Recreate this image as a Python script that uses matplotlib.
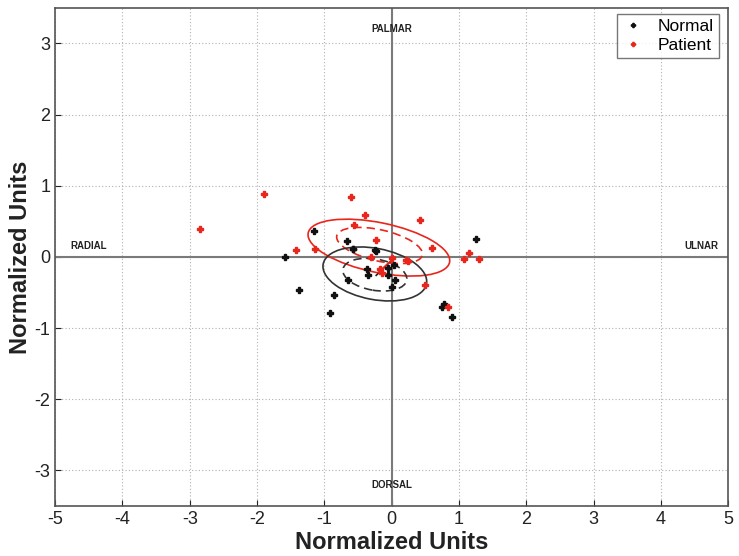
import matplotlib
matplotlib.use("Agg")
import matplotlib.pyplot as plt
from matplotlib.patches import Ellipse

plt.rcParams['font.family'] = ['Liberation Sans', 'DejaVu Sans']
plt.rcParams['axes.unicode_minus'] = False

# Data
normal_x = [-1.16, -1.58, -1.37, -0.86, -0.91, -0.66, -0.58, -0.24, -0.37, -0.35,
            -0.05, 0.04, -0.05, 0.05, 0.00, -0.65, 0.78, 0.75, 0.90, 1.26, -0.57, -0.25]
normal_y = [0.36, 0.00, -0.46, -0.53, -0.79, 0.22, 0.11, 0.08, -0.17, -0.25,
            -0.15, -0.12, -0.26, -0.33, -0.42, -0.32, -0.66, -0.70, -0.85, 0.25, 0.11, 0.09]
patient_x = [-2.84, -1.89, -0.61, -0.40, -0.56, 0.42, -0.23, -1.42, -1.14, 0.60,
             -0.30, 0.00, 0.21, -0.18, -0.15, 0.50, 1.15, 1.08, 1.30, 0.84, 0.24]
patient_y = [0.39, 0.88, 0.84, 0.59, 0.45, 0.52, 0.24, 0.09, 0.11, 0.12,
             0.00, -0.02, -0.05, -0.17, -0.23, -0.39, 0.06, -0.03, -0.03, -0.70, -0.06]

# ellipses: (cx, cy, width, height, angle)
patient_ell_solid = (-0.19, 0.13, 2.14, 0.70, -11)
patient_ell_dash = (-0.18, 0.16, 1.30, 0.44, -12)
normal_ell_solid = (-0.25, -0.24, 1.56, 0.72, -10)
normal_ell_dash = (-0.25, -0.25, 0.96, 0.44, -9)
normal_vec = ([-0.23, 0.02], [-0.26, -0.03])
patient_vec = ([-0.20, 0.05], [-0.22, 0.00])

labels = {'PALMAR': (0, 3.2), 'DORSAL': (0, -3.2), 'RADIAL': (-4.5, 0.15), 'ULNAR': (4.6, 0.15)}

fig = plt.figure(figsize=(7.39, 5.56), dpi=100)
ax = fig.add_axes([0.0745, 0.09, 0.911, 0.896])
ax.set_xlim(-5, 5)
ax.set_ylim(-3.5, 3.5)
ax.set_xticks(range(-5, 6))
ax.set_yticks(range(-3, 4))
ax.grid(True, linestyle=(0, (1, 2)), color='#b0b0b0', linewidth=0.8)
ax.set_axisbelow(True)
ax.axhline(0, color='#7a7a7a', lw=1.5, zorder=1)
ax.axvline(0, color='#7a7a7a', lw=1.5, zorder=1)

red = '#e8261c'
for (cx, cy, w, h, a), col, ls in [(patient_ell_solid, red, '-'), (patient_ell_dash, red, (0, (5, 3))),
                                    (normal_ell_solid, '#333333', '-'), (normal_ell_dash, '#333333', (0, (5, 3)))]:
    ax.add_patch(Ellipse((cx, cy), w, h, angle=a, fill=False, edgecolor=col, linestyle=ls, lw=1.2, zorder=2))
ax.plot(*normal_vec, color='#222222', lw=1.2, zorder=2)
ax.plot(*patient_vec, color=red, lw=1.2, zorder=2)

ax.plot(normal_x, normal_y, linestyle='none', marker='P', markersize=5, color='#111111', label='Normal', zorder=3)
ax.plot(patient_x, patient_y, linestyle='none', marker='P', markersize=5, color=red, label='Patient', zorder=3)

for t, (x, y) in labels.items():
    ax.text(x, y, t, ha='center', va='center', fontsize=7, fontweight='bold', color='#222222')

for s in ax.spines.values():
    s.set_color('#555555')
    s.set_linewidth(1.2)
ax.tick_params(direction='in', length=4, labelsize=13, colors='#222222')
ax.set_xlabel('Normalized Units', fontsize=17, fontweight='bold', labelpad=2, color='#222222')
ax.set_ylabel('Normalized Units', fontsize=17, fontweight='bold', labelpad=2, color='#222222')

leg = ax.legend(loc='upper right', bbox_to_anchor=(0.9985, 1.005), fontsize=12.5, frameon=True, fancybox=False,
                edgecolor='#555555', handlelength=1.2, borderpad=0.3, labelspacing=0.2, markerscale=0.6)
leg.get_frame().set_linewidth(1.0)

fig.savefig('out.png', dpi=100)
